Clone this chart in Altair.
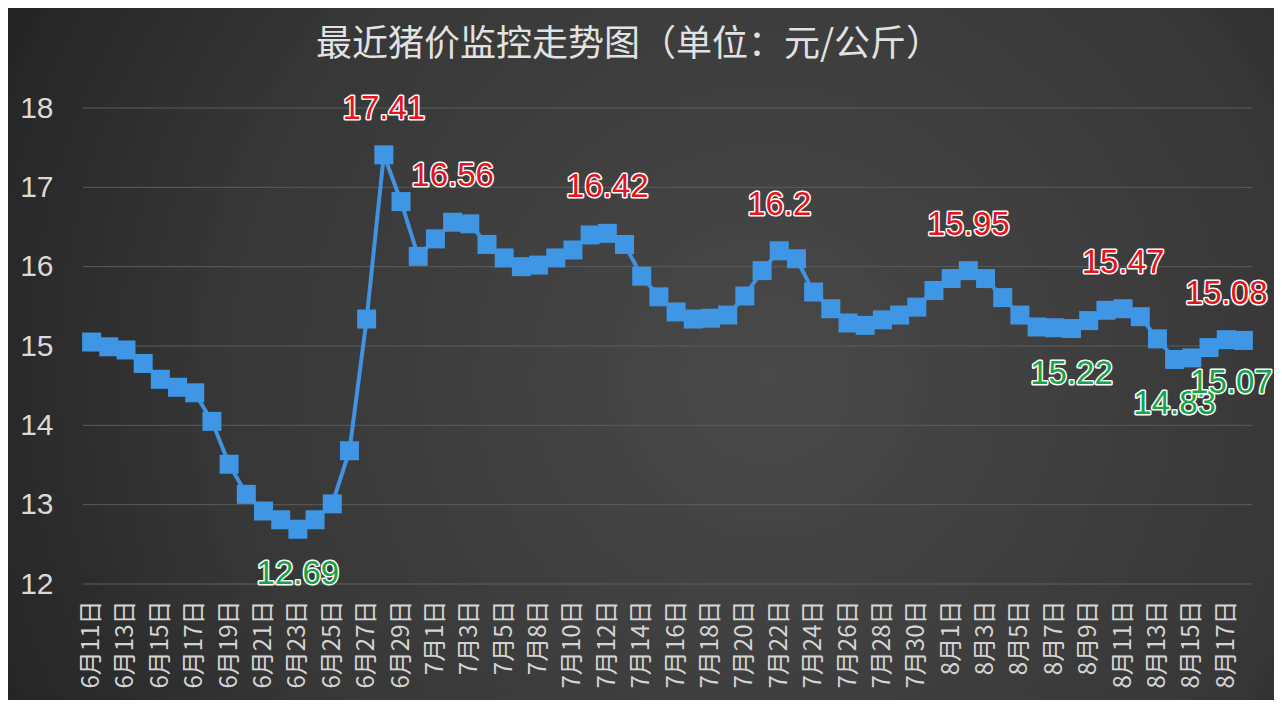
import altair as alt
import pandas as pd

dates = [
    "6月11日", "6月12日", "6月13日", "6月14日", "6月15日", "6月16日", "6月17日", "6月18日", "6月19日", "6月20日",
    "6月21日", "6月22日", "6月23日", "6月24日", "6月25日", "6月26日", "6月27日", "6月28日", "6月29日", "6月30日",
    "7月1日", "7月2日", "7月3日", "7月4日", "7月5日", "7月6日", "7月8日", "7月9日", "7月10日", "7月11日",
    "7月12日", "7月13日", "7月14日", "7月15日", "7月16日", "7月17日", "7月18日", "7月19日", "7月20日", "7月21日",
    "7月22日", "7月23日", "7月24日", "7月25日", "7月26日", "7月27日", "7月28日", "7月29日", "7月30日", "7月31日",
    "8月1日", "8月2日", "8月3日", "8月4日", "8月5日", "8月6日", "8月7日", "8月8日", "8月9日", "8月10日",
    "8月11日", "8月12日", "8月13日", "8月14日", "8月15日", "8月16日", "8月17日", "8月18日",
]

prices = [
    15.05, 14.99, 14.95, 14.78, 14.58, 14.48, 14.41, 14.05, 13.51, 13.13,
    12.92, 12.81, 12.69, 12.81, 13.01, 13.68, 15.34, 17.41, 16.82, 16.13,
    16.35, 16.56, 16.54, 16.28, 16.11, 16.00, 16.02, 16.11, 16.21, 16.40,
    16.42, 16.28, 15.88, 15.62, 15.43, 15.34, 15.35, 15.39, 15.63, 15.95,
    16.20, 16.10, 15.68, 15.47, 15.29, 15.26, 15.33, 15.39, 15.49, 15.70,
    15.85, 15.95, 15.85, 15.61, 15.39, 15.24, 15.23, 15.22, 15.32, 15.45,
    15.47, 15.37, 15.09, 14.83, 14.85, 14.98, 15.08, 15.07,
]

tick_dates = dates[::2]
y_ticks = [12, 13, 14, 15, 16, 17, 18]

high_dates = ["6月28日", "7月2日", "7月12日", "7月22日", "8月2日", "8月11日", "8月17日"]
high_texts = ["17.41", "16.56", "16.42", "16.2", "15.95", "15.47", "15.08"]
low_dates = ["6月23日", "8月8日", "8月14日"]
low_texts = ["12.69", "15.22", "14.83"]
last_date = ["8月18日"]
last_text = ["15.07"]

TITLE = "最近猪价监控走势图（单位：元/公斤）"

W, H = 1169, 476
PAD = {"left": 75, "top": 100, "right": 22, "bottom": 116}

price_of = dict(zip(dates, prices))
df = pd.DataFrame({"date": dates, "price": prices})
grid_df = pd.DataFrame({"price": y_ticks})
high_df = pd.DataFrame({"date": high_dates, "label": high_texts,
                        "price": [price_of[d] for d in high_dates]})
low_df = pd.DataFrame({"date": low_dates, "label": low_texts,
                       "price": [price_of[d] for d in low_dates]})
last_df = pd.DataFrame({"date": last_date, "label": last_text,
                        "price": [price_of[d] for d in last_date]})

x_enc = alt.X(
    "date:N", sort=dates, title=None,
    scale=alt.Scale(type="point", padding=0.5),
    axis=alt.Axis(values=tick_dates, labelAngle=-90, labelFont="Noto Sans CJK SC",
                  labelFontSize=24, labelColor="#d4d4d4", labelPadding=16,
                  labelOverlap=False, domain=False, ticks=False, tickSize=0, grid=False,
                  zindex=1),
)
y_scale = alt.Scale(domain=[12, 18], nice=False, zero=False)
y_axis = alt.Axis(values=y_ticks, format="d", labelFont="Liberation Sans", labelFontSize=30,
                  labelColor="#d9d9d9", labelPadding=30, domain=False, ticks=False,
                  tickSize=0, grid=False, zindex=1)
y_enc = alt.Y("price:Q", title=None, scale=y_scale, axis=y_axis)

bg = alt.Chart(pd.DataFrame({"k": [0]})).mark_rect(
    fill={
        "gradient": "radial",
        "x1": 0.6, "y1": 0.52, "r1": 0.0,
        "x2": 0.6, "y2": 0.52, "r2": 0.78,
        "stops": [
            {"offset": 0.0, "color": "#494949"},
            {"offset": 0.55, "color": "#373737"},
            {"offset": 1.0, "color": "#1b1b1b"},
        ],
    }
).encode(
    x=alt.value(-PAD["left"]), x2=alt.value(W + PAD["right"]),
    y=alt.value(-PAD["top"]), y2=alt.value(H + PAD["bottom"]),
)

title = alt.Chart(pd.DataFrame({"k": [0]})).mark_text(
    text=TITLE, font="Noto Sans CJK SC", fontSize=36, color="#e2e2e2",
    align="center", baseline="middle",
).encode(x=alt.value(546), y=alt.value(-63))

grid = alt.Chart(grid_df).mark_rule(color="#5c5c5c", strokeWidth=1).encode(
    y=alt.Y("price:Q", title=None, scale=y_scale, axis=y_axis),
    x=alt.value(0), x2=alt.value(W),
)

base = alt.Chart(df).encode(x=x_enc, y=y_enc)
line = base.mark_line(color="#3f93e0", strokeWidth=4)
pts = base.mark_point(shape="square", filled=True, size=361, color="#3f96e4", opacity=1)

def labels(data, color, dy, dx=0):
    common = dict(font="Liberation Sans", fontSize=33, baseline="middle", align="center", dy=dy, dx=dx)
    enc = dict(x=alt.X("date:N", sort=dates), y=alt.Y("price:Q"), text="label:N")
    halo = alt.Chart(data).mark_text(fill="#ffffff", stroke="#ffffff", strokeWidth=3,
                                     strokeJoin="round", **common).encode(**enc)
    txt = alt.Chart(data).mark_text(fill=color, **common).encode(**enc)
    return [halo, txt]

RED = "#e3141b"
GREEN = "#17a349"
layers = [bg, title, grid, line, pts]
layers += labels(high_df, RED, -46)
layers += labels(low_df, GREEN, 45)
layers += labels(last_df, GREEN, 43, -12)

chart = alt.layer(*layers).properties(
    width=W, height=H,
    autosize=alt.AutoSizeParams(type="none"),
    padding=PAD,
    background="#262626",
).configure_view(stroke=None)

chart.save("out.html", embed_options={"renderer": "svg", "actions": False})
